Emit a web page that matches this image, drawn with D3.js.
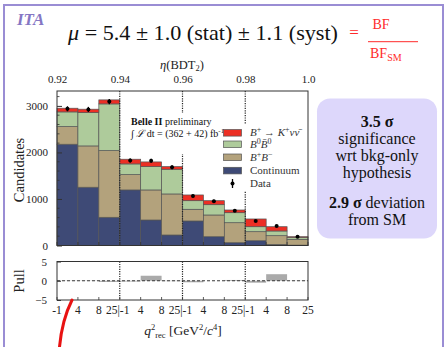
<!DOCTYPE html>
<html>
<head>
<meta charset="utf-8">
<script src="https://cdn.jsdelivr.net/npm/d3@7"></script>
<style>
  html, body { margin: 0; padding: 0; background: #fff; }
</style>
</head>
<body>
<svg id="chart" width="447" height="347"></svg>
<script>
// Stacked yields per bin (4 eta(BDT2) slices x 3 q2 bins each)
const continuum = [2176, 1252, 606, 1194, 548, 226, 527, 189, 60, 103, 22, 8];
const bpbm      = [379, 888, 1433, 329, 646, 882, 251, 467, 430, 194, 189, 125];
const b0b0      = [316, 716, 1004, 230, 501, 531, 185, 221, 215, 107, 101, 43];
const signal    = [79, 73, 86, 101, 101, 56, 123, 86, 58, 166, 92, 13];
const dataVals  = [2938, 2925, 3092, 1826, 1822, 1682, 1065, 950, 748, 527, 419, 189];
const dataErr   = [54, 54, 56, 43, 43, 41, 33, 31, 27, 23, 20, 14];
const pulls     = [0.05, -0.05, -0.3, -0.2, 1.3, -0.1, -0.4, 0.0, 0.2, -0.5, 1.7, 0.05];

const etaTicks   = [0.92, 0.94, 0.96, 0.98, 1.0];
const q2Labels   = ["-1", "4", "8", "25"];
const yTicks     = [0, 1000, 2000, 3000];
const pullTicks  = [-5, 0, 5];

const seriesNames  = ["Continuum", "B+B-", "B0B0", "Signal"];
const seriesColors = ["#3e4a76", "#b3a27c", "#aecb9b", "#ec2f24"];

const FONT = "'Liberation Serif', serif";
const svg = d3.select("#chart");
const L = 57, R = 308, T = 91, B = 245.5;
const PT = 261.5, PB = 300;
const nBins = continuum.length;

const x = d3.scaleLinear().domain([0, nBins]).range([L, R]);
const xEta = d3.scaleLinear().domain([0.92, 1.0]).range([L, R]);
const y = d3.scaleLinear().domain([0, 3320]).range([B, T]);
const yp = d3.scaleLinear().domain([-5, 5]).range([PB, PT]);

// Outer slide frame
svg.append("rect").attr("x", 4).attr("y", 5).attr("width", 439).attr("height", 360)
  .attr("fill", "none").attr("stroke", "#9a8dd4").attr("stroke-width", 2);

svg.append("text").attr("x", 17).attr("y", 25)
  .attr("font-size", 17).attr("font-style", "italic").attr("font-weight", "bold")
  .attr("fill", "#8577c4").text("ITA");

// Headline result
const title = svg.append("text").attr("x", 68).attr("y", 40).attr("font-size", 21).attr("fill", "#111");
title.append("tspan").attr("font-style", "italic").text("μ");
title.append("tspan").text(" = 5.4 ± 1.0 (stat) ± 1.1 (syst)");

const red = "#ff2a2a";
svg.append("text").attr("x", 354).attr("y", 38).attr("text-anchor", "middle")
  .attr("font-size", 17).attr("fill", red).text("=");
svg.append("text").attr("x", 381).attr("y", 29).attr("text-anchor", "middle")
  .attr("font-size", 14).attr("fill", red).text("BF");
svg.append("line").attr("x1", 368).attr("x2", 418).attr("y1", 41.7).attr("y2", 41.7)
  .attr("stroke", red).attr("stroke-width", 1);
const den = svg.append("text").attr("x", 370).attr("y", 58).attr("font-size", 14).attr("fill", red);
den.append("tspan").text("BF");
den.append("tspan").attr("font-size", 10).attr("dy", 3).text("SM");

// Stacked histogram
const stackInput = d3.range(nBins).map(i => ({
  i, Continuum: continuum[i], "B+B-": bpbm[i], B0B0: b0b0[i], Signal: signal[i]
}));
const stacked = d3.stack().keys(seriesNames)(stackInput);
const plot = svg.append("g");
stacked.forEach((layer, k) => {
  plot.selectAll(null).data(layer).enter().append("rect")
    .attr("x", d => x(d.data.i))
    .attr("width", x(1) - x(0))
    .attr("y", d => y(d[1]))
    .attr("height", d => y(d[0]) - y(d[1]))
    .attr("fill", seriesColors[k])
    .attr("stroke", "#555").attr("stroke-width", 0.7);
});

// Slice separators
const seps = [3, 6, 9];
svg.selectAll(null).data(seps).enter().append("line")
  .attr("x1", d => x(d)).attr("x2", d => x(d)).attr("y1", T).attr("y2", B)
  .attr("stroke", "#222").attr("stroke-width", 1.2).attr("stroke-dasharray", "1.2,1.2");

// Legend backgrounds
svg.append("rect").attr("x", 129).attr("y", 113).attr("width", 95).attr("height", 41).attr("fill", "#fff");
svg.append("rect").attr("x", 220).attr("y", 124).attr("width", 86).attr("height", 67).attr("fill", "#fff");

const info1 = svg.append("text").attr("x", 131).attr("y", 124.5).attr("font-size", 10).attr("fill", "#111");
info1.append("tspan").attr("font-weight", "bold").text("Belle II");
info1.append("tspan").text(" preliminary");
const info2 = svg.append("text").attr("x", 131).attr("y", 137).attr("font-size", 10).attr("fill", "#111");
info2.append("tspan").text("∫ ");
info2.append("tspan").attr("font-style", "italic").text("ℒ");
info2.append("tspan").text(" dt = (362 + 42) fb");
info2.append("tspan").attr("font-size", 7).attr("dy", -4).text("-1");

const legendRows = [
  { color: seriesColors[3], parts: [["B", "i"], ["+", "sup"], [" → ", ""], ["K", "i"], ["+", "sup"], ["ν", "i"], ["ν̄", "i"]] },
  { color: seriesColors[2], parts: [["B", "i"], ["0", "sup"], ["B̄", "i"], ["0", "sup"]] },
  { color: seriesColors[1], parts: [["B", "i"], ["+", "sup"], ["B", "i"], ["−", "sup"]] },
  { color: seriesColors[0], parts: [["Continuum", ""]] }
];
const legY = [132.8, 144.3, 157.3, 170.6];
legendRows.forEach((row, k) => {
  svg.append("rect").attr("x", 223.5).attr("y", legY[k] - 3.3).attr("width", 18).attr("height", 6.6)
    .attr("fill", row.color).attr("stroke", "#555").attr("stroke-width", 0.7);
  const t = svg.append("text").attr("x", 250).attr("y", legY[k] + 3.5).attr("font-size", 11).attr("fill", "#333");
  let raised = false;
  row.parts.forEach(([s, style]) => {
    const sp = t.append("tspan").text(s);
    if (style === "i") sp.attr("font-style", "italic");
    if (style === "sup") {
      sp.attr("font-size", 8).attr("dy", raised ? 0 : -4); raised = true;
    } else if (raised) {
      sp.attr("dy", 4); raised = false;
    }
  });
});
// Data entry
svg.append("line").attr("x1", 232.5).attr("x2", 232.5).attr("y1", 179).attr("y2", 188)
  .attr("stroke", "#000").attr("stroke-width", 1.3);
svg.append("circle").attr("cx", 232.5).attr("cy", 183.5).attr("r", 2).attr("fill", "#000");
svg.append("text").attr("x", 250).attr("y", 187).attr("font-size", 11).attr("fill", "#333").text("Data");

// Data points
const pts = svg.append("g");
pts.selectAll(null).data(dataVals).enter().append("line")
  .attr("x1", (d, i) => x(i + 0.5)).attr("x2", (d, i) => x(i + 0.5))
  .attr("y1", (d, i) => y(d - dataErr[i])).attr("y2", (d, i) => y(d + dataErr[i]))
  .attr("stroke", "#000").attr("stroke-width", 1.3);
pts.selectAll(null).data(dataVals).enter().append("circle")
  .attr("cx", (d, i) => x(i + 0.5)).attr("cy", d => y(d)).attr("r", 2).attr("fill", "#000");

// Main frame and axes
svg.append("rect").attr("x", L).attr("y", T).attr("width", R - L).attr("height", B - T)
  .attr("fill", "none").attr("stroke", "#333").attr("stroke-width", 1);

function styleAxis(g) {
  g.select(".domain").remove();
  g.selectAll("text").attr("font-size", 11).attr("fill", "#222");
  g.selectAll("line").attr("stroke", "#333");
}

const yAxis = d3.axisLeft(y).tickValues(yTicks).tickSize(-5).tickPadding(9).tickFormat(d3.format("d"));
svg.append("g").attr("transform", `translate(${L},0)`).call(yAxis).call(styleAxis);
const minor = d3.range(0, 3300, 200).filter(v => v % 1000 !== 0);
svg.selectAll(null).data(minor).enter().append("line")
  .attr("x1", L).attr("x2", L + 2.5).attr("y1", d => y(d)).attr("y2", d => y(d))
  .attr("stroke", "#333").attr("stroke-width", 0.8);

const xTop = d3.axisTop(xEta).tickValues(etaTicks).tickSize(0).tickPadding(8)
  .tickFormat(d => d === 1 ? "1.0" : d3.format(".2f")(d));
svg.append("g").attr("transform", `translate(0,${T})`).call(xTop).call(styleAxis);
svg.selectAll(null).data(d3.range(0, nBins + 1)).enter().append("line")
  .attr("x1", d => x(d)).attr("x2", d => x(d)).attr("y1", B).attr("y2", B - 3.5)
  .attr("stroke", "#333").attr("stroke-width", 0.8);

const eta = svg.append("text").attr("x", 182).attr("y", 69).attr("text-anchor", "middle")
  .attr("font-size", 12.5).attr("fill", "#222");
eta.append("tspan").attr("font-style", "italic").text("η");
eta.append("tspan").text("(BDT");
eta.append("tspan").attr("font-size", 8.5).attr("dy", 2).text("2");
eta.append("tspan").attr("dy", -2).text(")");

svg.append("text").attr("transform", "translate(24,170) rotate(-90)").attr("text-anchor", "middle")
  .attr("font-size", 14.5).attr("fill", "#222").text("Candidates");

// Pull panel
svg.selectAll(null).data(pulls).enter().append("rect")
  .attr("x", (d, i) => x(i)).attr("width", x(1) - x(0))
  .attr("y", d => yp(Math.max(0, d))).attr("height", d => Math.abs(yp(d) - yp(0)))
  .attr("fill", "#aaaaaa");
svg.append("line").attr("x1", L).attr("x2", R).attr("y1", yp(0)).attr("y2", yp(0))
  .attr("stroke", "#222").attr("stroke-width", 0.9).attr("stroke-dasharray", "3,2");
svg.selectAll(null).data(seps).enter().append("line")
  .attr("x1", d => x(d)).attr("x2", d => x(d)).attr("y1", PT).attr("y2", PB)
  .attr("stroke", "#222").attr("stroke-width", 1.2).attr("stroke-dasharray", "1.2,1.2");
svg.append("rect").attr("x", L).attr("y", PT).attr("width", R - L).attr("height", PB - PT)
  .attr("fill", "none").attr("stroke", "#333").attr("stroke-width", 1);

const pAxis = d3.axisLeft(yp).tickValues(pullTicks).tickSize(-4).tickPadding(10)
  .tickFormat(d => d < 0 ? "−" + Math.abs(d) : String(d));
svg.append("g").attr("transform", `translate(${L},0)`).call(pAxis).call(styleAxis);
svg.selectAll(null).data(d3.range(0, nBins + 1)).enter().append("line")
  .attr("x1", d => x(d)).attr("x2", d => x(d)).attr("y1", PB).attr("y2", PB - 3)
  .attr("stroke", "#333").attr("stroke-width", 0.8);

// q2 bin-edge labels, one set per slice
const edgeLabels = d3.range(0, nBins + 1).map(e => {
  const k = e % 3;
  if (e === 0) return q2Labels[0];
  if (e === nBins) return q2Labels[3];
  if (k === 0) return q2Labels[3] + "|" + q2Labels[0];
  return q2Labels[k];
});
svg.selectAll(null).data(edgeLabels).enter().append("text")
  .attr("x", (d, e) => x(e) - (d.includes("|") ? 2 : 0)).attr("y", 314)
  .attr("text-anchor", "middle").attr("font-size", 11.5).attr("fill", "#222").text(d => d);

svg.append("text").attr("transform", "translate(24,281) rotate(-90)").attr("text-anchor", "middle")
  .attr("font-size", 14.5).attr("fill", "#222").text("Pull");

const q2 = svg.append("text").attr("x", 183).attr("y", 334.5).attr("text-anchor", "middle")
  .attr("font-size", 13.5).attr("fill", "#222");
q2.append("tspan").attr("font-style", "italic").text("q");
q2.append("tspan").attr("font-size", 8.5).attr("dy", -4.5).text("2");
q2.append("tspan").attr("font-size", 8.5).attr("dy", 7.5).text("rec");
q2.append("tspan").attr("dy", -3).text(" [GeV");
q2.append("tspan").attr("font-size", 8.5).attr("dy", -4.5).text("2");
q2.append("tspan").attr("dy", 4.5).text("/");
q2.append("tspan").attr("font-style", "italic").text("c");
q2.append("tspan").attr("font-size", 8.5).attr("dy", -4.5).text("4");
q2.append("tspan").attr("dy", 4.5).text("]");

// Significance summary box
svg.append("rect").attr("x", 317).attr("y", 98.5).attr("width", 120).attr("height", 140)
  .attr("rx", 13).attr("fill", "#ddd7fb");
const boxLines = [
  { y: 127, parts: [["3.5 σ", true]] },
  { y: 144, parts: [["significance", false]] },
  { y: 161, parts: [["wrt bkg-only", false]] },
  { y: 178, parts: [["hypothesis", false]] },
  { y: 208, parts: [["2.9 σ", true], [" deviation", false]] },
  { y: 225, parts: [["from SM", false]] }
];
boxLines.forEach(line => {
  const t = svg.append("text").attr("x", 377).attr("y", line.y).attr("text-anchor", "middle")
    .attr("font-size", 16).attr("fill", "#111");
  line.parts.forEach(([s, bold]) => {
    const sp = t.append("tspan").text(s);
    if (bold) sp.attr("font-weight", "bold");
  });
});

// Hand-drawn red stroke
svg.append("path").attr("d", "M72,300 Q62,320 59.5,347")
  .attr("fill", "none").attr("stroke", "#e81212").attr("stroke-width", 3).attr("stroke-linecap", "round");

// Serif face for all labels
svg.selectAll("text").style("font-family", FONT);
title.attr("textLength", 270).attr("lengthAdjust", "spacingAndGlyphs");
</script>
</body>
</html>
